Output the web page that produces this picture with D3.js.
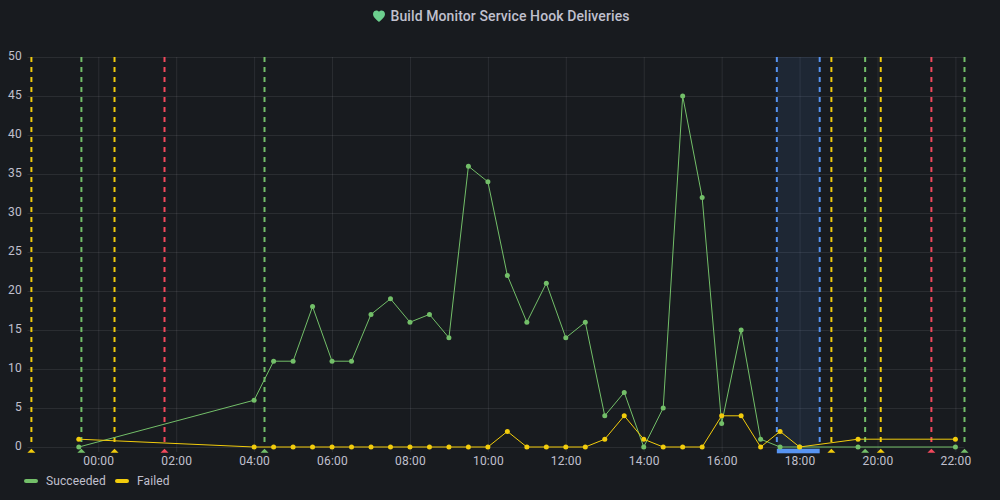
<!DOCTYPE html>
<html>
<head>
<meta charset="utf-8">
<script src="https://cdn.jsdelivr.net/npm/d3@7"></script>
<style>
  html, body { margin: 0; padding: 0; background: #181b1f; }
  svg { display: block; font-family: Roboto, sans-serif; }
</style>
</head>
<body>
<div id="chart"></div>
<script>
// Series times are minutes from 00:00, negative means the evening before
const successTimes = [-30, 240, 270, 300, 330, 360, 390, 420, 450, 480, 510, 540, 570, 600, 630, 660, 690, 720, 750, 780, 810, 840, 870, 900, 930, 960, 990, 1020, 1050, 1080, 1170, 1320];
const successValues = [0, 6, 11, 11, 18, 11, 11, 17, 19, 16, 17, 14, 36, 34, 22, 16, 21, 14, 16, 4, 7, 0, 5, 45, 32, 3, 15, 1, 0, 0, 0, 0];
const failedTimes = [-30, 240, 270, 300, 330, 360, 390, 420, 450, 480, 510, 540, 570, 600, 630, 660, 690, 720, 750, 780, 810, 840, 870, 900, 930, 960, 990, 1020, 1050, 1080, 1170, 1320];
const failedValues = [1, 0, 0, 0, 0, 0, 0, 0, 0, 0, 0, 0, 0, 0, 2, 0, 0, 0, 0, 1, 4, 1, 0, 0, 0, 4, 4, 0, 2, 0, 1, 1];

// Annotations, minutes from 00:00
const yellowMarks = [-103, 25.6, 1129, 1205];
const greenMarks = [-26.7, 256.8, 1181, 1334.5];
const redMarks = [102.7, 1283.5];
const regionStart = 1045.5;
const regionEnd = 1111.7;

const yTicks = [0, 5, 10, 15, 20, 25, 30, 35, 40, 45, 50];
const legendNames = ["Succeeded", "Failed"];
const titleText = "Build Monitor Service Hook Deliveries";

const green = "#73bf69";
const yellow = "#f2cc0c";
const red = "#f2495c";
const blue = "#5794f2";
const textColor = "#c0c0ce";
const gridColor = "rgba(204,204,220,0.1)";

const width = 1000;
const height = 500;
const margin = { top: 57, right: 35.5, bottom: 53, left: 27.5 };

const toDate = m => new Date(Date.UTC(2021, 0, 10, 0, m));

const svg = d3.select("#chart")
  .append("svg")
  .attr("width", width)
  .attr("height", height);

const x = d3.scaleUtc()
  .domain([toDate(-109.8), toDate(1334.5)])
  .range([margin.left, width - margin.right]);

const y = d3.scaleLinear()
  .domain([0, 50])
  .range([height - margin.bottom, margin.top]);

// Title with heart icon
const heart = svg.append("g").attr("transform", "translate(379,16)");
heart.append("path")
  .attr("d", "M0,6 C-2,4 -6,1.5 -6,-2 C-6,-4.6 -4,-5.6 -2.6,-5.6 C-1.4,-5.6 -0.5,-5 0,-4.2 C0.5,-5 1.4,-5.6 2.6,-5.6 C4,-5.6 6,-4.6 6,-2 C6,1.5 2,4 0,6 Z")
  .attr("fill", "#6ccf8e");

svg.append("text")
  .attr("x", 390.5)
  .attr("y", 20.5)
  .attr("fill", textColor)
  .attr("font-size", 14)
  .attr("font-weight", 500)
  .attr("letter-spacing", 0.1)
  .text(titleText);

// X axis and vertical grid
const xAxis = svg.append("g")
  .attr("transform", `translate(0,${y(0)})`)
  .call(d3.axisBottom(x)
    .ticks(d3.utcHour.every(2))
    .tickFormat(d3.utcFormat("%H:%M"))
    .tickSizeOuter(0));
xAxis.select(".domain").remove();
xAxis.selectAll(".tick line")
  .attr("y1", 5)
  .attr("y2", y(50) - y(0))
  .attr("stroke", gridColor);
xAxis.selectAll(".tick text")
  .attr("y", 9)
  .attr("fill", textColor)
  .attr("font-family", "Roboto, sans-serif")
  .attr("font-size", 12)
  .attr("letter-spacing", 0.2);

// Y axis and horizontal grid
const yAxis = svg.append("g")
  .attr("transform", `translate(${margin.left},0)`)
  .call(d3.axisLeft(y)
    .tickValues(yTicks)
    .tickSizeOuter(0));
yAxis.select(".domain").remove();
yAxis.selectAll(".tick line")
  .attr("x1", 0)
  .attr("x2", width - margin.right - margin.left)
  .attr("stroke", gridColor);
yAxis.selectAll(".tick text")
  .attr("x", -5.5)
  .attr("y", -1)
  .attr("fill", textColor)
  .attr("font-family", "Roboto, sans-serif")
  .attr("font-size", 12)
  .attr("letter-spacing", 0.2);

// Shaded annotation region
svg.append("rect")
  .attr("x", x(toDate(regionStart)))
  .attr("y", y(50))
  .attr("width", x(toDate(regionEnd)) - x(toDate(regionStart)))
  .attr("height", y(0) - y(50))
  .attr("fill", blue)
  .attr("fill-opacity", 0.1);
svg.append("rect")
  .attr("x", x(toDate(regionStart)))
  .attr("y", y(0) + 1.7)
  .attr("width", x(toDate(regionEnd)) - x(toDate(regionStart)))
  .attr("height", 4.6)
  .attr("fill", blue);

// Annotation lines with a small triangle under each
function drawMarks(times, color) {
  times.forEach(t => {
    svg.append("line")
      .attr("x1", x(toDate(t)))
      .attr("x2", x(toDate(t)))
      .attr("y1", y(50))
      .attr("y2", y(0))
      .attr("stroke", color)
      .attr("stroke-width", 2)
      .attr("stroke-dasharray", "5,5");
    svg.append("path")
      .attr("transform", `translate(${x(toDate(t))},${y(0) + 2.3})`)
      .attr("d", "M-4,3.5 L0,-0.5 L4,3.5 Z")
      .attr("fill", color);
  });
}
drawMarks(yellowMarks, yellow);
drawMarks(greenMarks, green);
drawMarks(redMarks, red);
[regionStart, regionEnd].forEach(t => {
  svg.append("line")
    .attr("x1", x(toDate(t)))
    .attr("x2", x(toDate(t)))
    .attr("y1", y(50))
    .attr("y2", y(0))
    .attr("stroke", blue)
    .attr("stroke-width", 2)
    .attr("stroke-dasharray", "5,5");
});

// Series lines and points
const line = d3.line()
  .x(d => x(toDate(d[0])))
  .y(d => y(d[1]));

function drawSeries(times, values, color) {
  const data = d3.zip(times, values);
  svg.append("path")
    .datum(data)
    .attr("fill", "none")
    .attr("stroke", color)
    .attr("stroke-width", 1)
    .attr("d", line);
  svg.append("g")
    .selectAll("circle")
    .data(data)
    .join("circle")
    .attr("cx", d => x(toDate(d[0])))
    .attr("cy", d => y(d[1]))
    .attr("r", 2.5)
    .attr("fill", color);
}
drawSeries(successTimes, successValues, green);
drawSeries(failedTimes, failedValues, yellow);

// Legend
const legendX = [24, 115];
[green, yellow].forEach((color, i) => {
  svg.append("rect")
    .attr("x", legendX[i])
    .attr("y", 479)
    .attr("width", 14)
    .attr("height", 4)
    .attr("rx", 2)
    .attr("fill", color);
  svg.append("text")
    .attr("x", legendX[i] + 22)
    .attr("y", 485)
    .attr("fill", textColor)
    .attr("font-size", 12)
    .attr("letter-spacing", 0.1)
    .text(legendNames[i]);
});
</script>
</body>
</html>
